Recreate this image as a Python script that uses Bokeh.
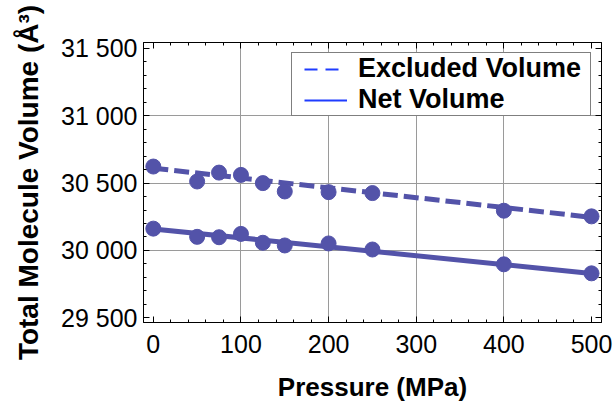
from bokeh.plotting import figure
from bokeh.models import Range1d, FixedTicker, LinearAxis, CustomJSTickFormatter, Legend, LegendItem
from bokeh.embed import file_html
from bokeh.resources import INLINE

# ---- data ----
pressure = [0, 50, 75, 100, 125, 150, 200, 250, 400, 500]
excluded_volume = [30623, 30512, 30578, 30561, 30500, 30438, 30433, 30426, 30295, 30253]
net_volume = [30162, 30101, 30098, 30123, 30057, 30037, 30052, 30007, 29897, 29830]

fit_pressure = [0, 500]
excluded_fit = [30611, 30246]
net_fit = [30160, 29828]

x_ticks = [0, 100, 200, 300, 400, 500]
x_minor = list(range(-20, 521, 20))
y_ticks = [29500, 30000, 30500, 31000, 31500]
y_tick_labels = ["29 500", "30 000", "30 500", "31 000", "31 500"]
y_minor = list(range(29400, 31601, 100))
x_grid = [100, 200, 300, 400]
y_grid = [30000, 30500, 31000]

FONT = "Liberation Sans"
MARK = "#5353A9"
LEG = "#1f3cff"

p = figure(width=616, height=404, output_backend="svg", toolbar_location=None,
           x_range=Range1d(-11.2, 511.4), y_range=Range1d(29465, 31544),
           min_border_left=143, min_border_right=15, min_border_top=42, min_border_bottom=79)
p.outline_line_color = "black"
p.background_fill_color = "white"
p.border_fill_color = "white"

def style_axis(ax, ticks, minor, labels=True):
    ax.ticker = FixedTicker(ticks=ticks, minor_ticks=minor)
    ax.major_tick_in = 6
    ax.major_tick_out = 0
    ax.minor_tick_in = 3
    ax.minor_tick_out = 0
    ax.axis_line_color = "black"
    ax.major_tick_line_color = "black"
    ax.minor_tick_line_color = "black"
    ax.major_label_text_font = FONT
    ax.major_label_text_font_size = "25px"
    ax.major_label_text_color = "black"
    ax.axis_label_text_font = FONT
    ax.axis_label_text_font_size = "26px"
    ax.axis_label_text_font_style = "bold"
    ax.axis_label_text_color = "black"
    if not labels:
        ax.formatter = CustomJSTickFormatter(code="return ''")
        ax.major_label_standoff = 0

xa = p.xaxis[0]
style_axis(xa, x_ticks, x_minor)
xa.axis_label = "Pressure (MPa)"
xa.major_label_standoff = 12
xa.axis_label_standoff = 16

ya = p.yaxis[0]
style_axis(ya, y_ticks, y_minor)
ya.axis_label = "Total Molecule Volume (Å³)"
ya.axis_label_text_font_size = "28px"
ya.major_label_overrides = {t: s for t, s in zip(y_ticks, y_tick_labels)}
ya.major_label_standoff = 6
ya.axis_label_standoff = 14

top = LinearAxis()
style_axis(top, x_ticks, x_minor, labels=False)
p.add_layout(top, "above")
right = LinearAxis()
style_axis(right, y_ticks, y_minor, labels=False)
p.add_layout(right, "right")

p.xgrid.ticker = FixedTicker(ticks=x_grid)
p.ygrid.ticker = FixedTicker(ticks=y_grid)
for g in (p.xgrid, p.ygrid):
    g.grid_line_color = "#9a9a9a"
    g.grid_line_width = 1

p.line(fit_pressure, excluded_fit, line_color=MARK, line_width=5, line_dash="15 6")
p.line(fit_pressure, net_fit, line_color=MARK, line_width=5)
p.scatter(pressure, excluded_volume, size=15, color=MARK)
p.scatter(pressure, net_volume, size=15, color=MARK)

# legend swatches (styles only; no data drawn)
nan = float("nan")
leg_ex = p.line([nan], [nan], line_color=LEG, line_width=2, line_dash="0 12 13 8 13 100")
leg_net = p.line([nan], [nan], line_color=LEG, line_width=2, line_dash="0 12 43 100")

legend = Legend(items=[LegendItem(label="Excluded Volume", renderers=[leg_ex]),
                       LegendItem(label="Net Volume", renderers=[leg_net])],
                location="top_right")
legend.margin = 10
legend.padding = 0
legend.spacing = -6
legend.glyph_width = 55
legend.glyph_height = 18
legend.label_height = 18
legend.label_width = 232
legend.label_standoff = 11
legend.label_text_font = FONT
legend.label_text_font_size = "27px"
legend.label_text_font_style = "bold"
legend.label_text_color = "black"
legend.border_line_color = "black"
legend.border_line_width = 1.5
legend.background_fill_color = "white"
legend.background_fill_alpha = 1.0
p.add_layout(legend, "center")

open("out.html", "w").write(file_html(p, INLINE))
